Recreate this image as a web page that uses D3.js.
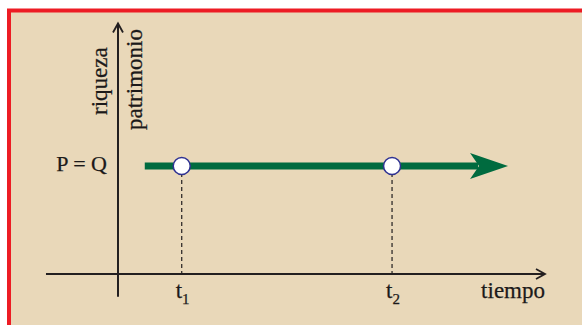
<!DOCTYPE html>
<html>
<head>
<meta charset="utf-8">
<script src="https://cdn.jsdelivr.net/npm/d3@7"></script>
<style>
  body { margin: 0; background: #fff; }
  text { font-family: "Liberation Serif", "DejaVu Serif", serif; fill: #1c1a1a; stroke: #1c1a1a; stroke-width: 0.25; }
</style>
</head>
<body>
<div id="chart-area"></div>
<script>
// time marks on the horizontal axis
var timeLabels = ["1", "2"];
var timeValues = [1, 4.3];
// level of the constant line (P = Q)
var levelLabel = "P = Q";
var levelValue = 1;
var lineStart = 0.42, lineEnd = 6.12;
var xAxisRange = [-1.13, 6.7];
var yAxisRange = [-0.21, 2.32];

var width = 582, height = 325;

var svg = d3.select("#chart-area")
  .append("svg")
  .attr("width", width)
  .attr("height", height);

// panel with red border on the left and top
svg.append("rect")
  .attr("x", 9).attr("y", 10.5)
  .attr("width", 600).attr("height", 340)
  .attr("fill", "#e9d8b9")
  .attr("stroke", "#ed1c24")
  .attr("stroke-width", 4);

var x = d3.scaleLinear().domain([0, 6.7]).range([118, 545]);
var y = d3.scaleLinear().domain([0, 1]).range([274, 166]);

var defs = svg.append("defs");
defs.append("marker")
  .attr("id", "open")
  .attr("viewBox", "-10 -6 12 12")
  .attr("refX", 0).attr("refY", 0)
  .attr("markerWidth", 12).attr("markerHeight", 12)
  .attr("markerUnits", "userSpaceOnUse")
  .attr("orient", "auto")
  .append("path")
  .attr("d", "M-9,-5L0,0L-9,5")
  .attr("fill", "none")
  .attr("stroke", "#231f20")
  .attr("stroke-width", 1.8);

// axes
svg.append("line")
  .attr("x1", x(xAxisRange[0])).attr("x2", x(xAxisRange[1]))
  .attr("y1", y(0)).attr("y2", y(0))
  .attr("stroke", "#231f20").attr("stroke-width", 2)
  .attr("marker-end", "url(#open)");

svg.append("line")
  .attr("x1", x(0)).attr("x2", x(0))
  .attr("y1", y(yAxisRange[0])).attr("y2", y(yAxisRange[1]))
  .attr("stroke", "#231f20").attr("stroke-width", 2)
  .attr("marker-end", "url(#open)");

// dashed guides
svg.selectAll(".guide")
  .data(timeValues)
  .enter()
  .append("line")
  .attr("class", "guide")
  .attr("x1", function(d) { return x(d); })
  .attr("x2", function(d) { return x(d); })
  .attr("y1", y(levelValue))
  .attr("y2", y(0))
  .attr("stroke", "#231f20")
  .attr("stroke-width", 1.2)
  .attr("stroke-dasharray", "4,3");

// green line with arrow
var green = "#006b3f";
var headLen = 38;
svg.append("line")
  .attr("x1", x(lineStart)).attr("x2", x(lineEnd) - 30)
  .attr("y1", y(levelValue)).attr("y2", y(levelValue))
  .attr("stroke", green).attr("stroke-width", 7);

var tipX = x(lineEnd), tipY = y(levelValue);
svg.append("path")
  .attr("d", "M" + tipX + "," + tipY +
    "L" + (tipX - headLen) + "," + (tipY - 13) +
    "L" + (tipX - headLen + 9) + "," + tipY +
    "L" + (tipX - headLen) + "," + (tipY + 13) + "Z")
  .attr("fill", green);

// circles
svg.selectAll(".pt")
  .data(timeValues)
  .enter()
  .append("circle")
  .attr("class", "pt")
  .attr("cx", function(d) { return x(d); })
  .attr("cy", y(levelValue))
  .attr("r", 8.5)
  .attr("fill", "#fff")
  .attr("stroke", "#2e3192")
  .attr("stroke-width", 1.5);

// time labels
var tl = svg.selectAll(".tl")
  .data(timeValues)
  .enter()
  .append("text")
  .attr("class", "tl")
  .attr("x", function(d) { return x(d) - 6; })
  .attr("y", 298)
  .style("font-size", "23px");
tl.append("tspan").text("t");
tl.append("tspan")
  .attr("dy", 6)
  .style("font-size", "15px")
  .text(function(d, i) { return timeLabels[i]; });

svg.append("text")
  .attr("x", 545).attr("y", 298)
  .attr("text-anchor", "end")
  .style("font-size", "23px")
  .text("tiempo");

svg.append("text")
  .attr("x", 107).attr("y", y(levelValue) + 5)
  .attr("text-anchor", "end")
  .style("font-size", "22px")
  .text(levelLabel);

svg.append("text")
  .attr("transform", "translate(107,115) rotate(-90)")
  .style("font-size", "23px")
  .text("riqueza");

svg.append("text")
  .attr("transform", "translate(142,130) rotate(-90)")
  .style("font-size", "23px")
  .text("patrimonio");
</script>
</body>
</html>
